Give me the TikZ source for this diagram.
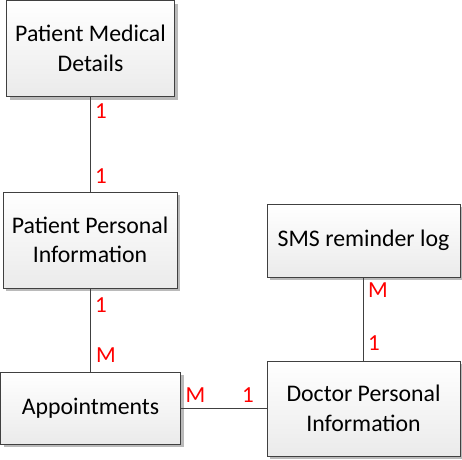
\documentclass[tikz,border=0pt]{standalone}
\usepackage{fontspec}
\setmainfont{Carlito}
\usetikzlibrary{shadows}
\definecolor{edgegray}{HTML}{404040}
\definecolor{cardred}{HTML}{FF0000}
\tikzset{
  entity/.style={draw=edgegray, line width=0.9pt, top color=white, bottom color=black!8,
    align=center, inner sep=0pt,
    font=\fontsize{23.8}{29.5}\selectfont,
    drop shadow={shadow xshift=3pt, shadow yshift=-3pt, fill=black!45, opacity=0.6}},
  conn/.style={draw=edgegray, line width=0.8pt},
  card/.style={text=cardred, font=\fontsize{23}{26}\selectfont, inner sep=0pt}
}
\begin{document}
\begin{tikzpicture}[x=1pt, y=-1pt]
\useasboundingbox (0,0) rectangle (462,459);
\node[entity, minimum width=168pt, minimum height=96pt] (pmd) at (90.5,48.5) {Patient Medical\\Details};
\node[entity, minimum width=174pt, minimum height=96pt] (ppi) at (90,240) {Patient Personal\\Information};
\node[entity, minimum width=180pt, minimum height=72pt] (app) at (90.5,408) {Appointments};
\node[entity, minimum width=193pt, minimum height=73pt] (sms) at (363.5,240.5) {SMS reminder log};
\node[entity, minimum width=193pt, minimum height=95pt] (dpi) at (363.5,408.5) {Doctor Personal\\Information};
\draw[conn] (pmd.south) -- (pmd.south |- ppi.north);
\draw[conn] (ppi.south) -- (ppi.south |- app.north);
\draw[conn] (app.east) -- (app.east -| dpi.west);
\draw[conn] (sms.south) -- (sms.south |- dpi.north);
\node[card] (c1) at (101,111) {1};
\node[card] (c2) at (101,176) {1};
\node[card] (c3) at (101,305) {1};
\node[card] (c4) at (106,355) {M};
\node[card] (c5) at (195.5,395) {M};
\node[card] (c6) at (248,395) {1};
\node[card] (c7) at (378,290) {M};
\node[card] (c8) at (374,343) {1};
\end{tikzpicture}
\end{document}
